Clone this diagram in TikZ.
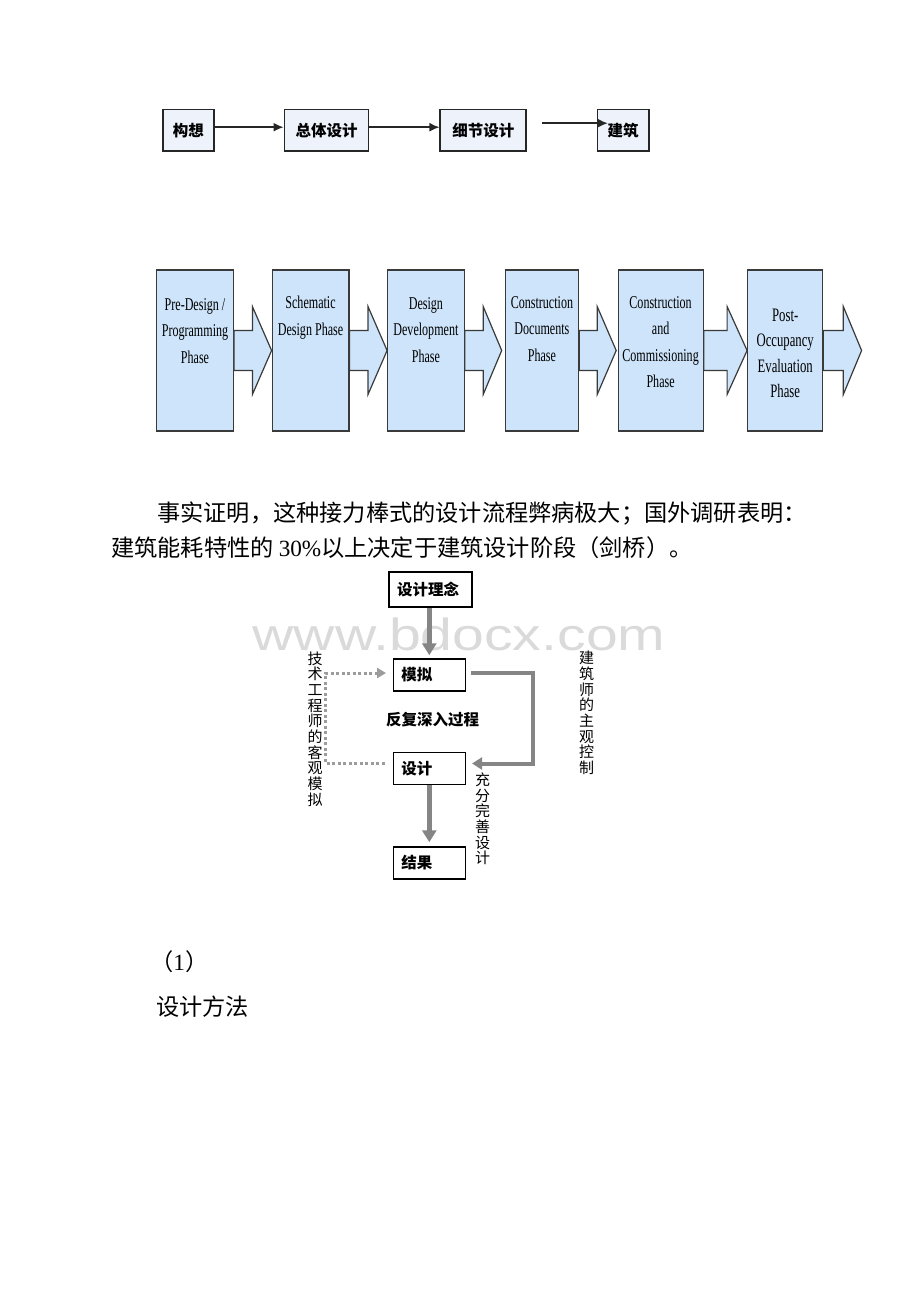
\documentclass[tikz,border=0pt]{standalone}
\usepackage{fontspec}
\setmainfont{Liberation Serif}
\newfontfamily\cjk{Noto Sans CJK SC}
\newfontfamily\phasefont[FakeStretch=0.67]{Liberation Serif}
\newfontfamily\wmfont[FakeStretch=1.27]{Liberation Sans}
\usepackage{tikz}
\usetikzlibrary{positioning}
\usetikzlibrary{arrows.meta}
\definecolor{phasenblau}{HTML}{CDE4FA}
\definecolor{kastenblau}{HTML}{EEF3FB}
\definecolor{rand}{HTML}{3A3A3A}
\definecolor{pfeilgrau}{HTML}{858585}
\definecolor{punktgrau}{HTML}{9C9C9C}
\definecolor{wasserzeichen}{HTML}{DADADA}
\tikzset{
  Kasten/.style={draw=black!85, line width=1.6pt, fill=kastenblau, minimum height=41.7pt,
    inner sep=0pt, font=\cjk\bfseries\fontsize{15.5}{18}\selectfont}, % oben
  Phase/.style={draw=rand, line width=1.2pt, fill=phasenblau, minimum height=161pt, inner sep=0pt},
  PText/.style={align=center, inner sep=0pt, anchor=base, font=\phasefont\fontsize{18}{26.5}\selectfont},
  PPfeil/.style={draw=rand, line width=1.2pt, fill=phasenblau, line join=miter},
  Schritt/.style={draw, line width=1.5pt, fill=white, minimum height=32pt, inner xsep=8pt,
    text width=#1, align=left, font=\cjk\bfseries\fontsize{15.5}{18}\selectfont},
  Schritt/.default=56pt,
  Pfeil/.style={line width=1.6pt, black!85, -{Latex[length=10pt,width=9pt]}}, % für Pfeile oben
  GPfeil/.style={pfeilgrau, line width=5pt, -{Triangle[length=12pt,width=14pt]}}, % grau, dick
  GLinie/.style={pfeilgrau, line width=4pt, -{Triangle[length=10pt,width=12pt]}},
  Punkte/.style={punktgrau, line width=3pt, dash pattern=on 3pt off 2.5pt,
    -{Triangle[length=9pt,width=10pt]}},
  Senkrecht/.style={align=center, inner sep=0pt, font=\cjk\fontsize{15}{15.7}\selectfont},
  Absatz/.style={inner sep=0pt, font=\cjk\fontsize{23.2}{30}\selectfont}
}
\newcommand\Blockpfeil[3]{% Knoten, Schaft, Spitze
  \draw[PPfeil] ([yshift=20pt]#1.east) -- ++(#2,0pt) -- ++(0pt,24pt)
    -- ([xshift=#3]#1.east) -- ([xshift=#2,yshift=-44pt]#1.east) -- ++(0pt,24pt)
    -- ([yshift=-20pt]#1.east) -- cycle;}

\begin{document}
\begin{tikzpicture}[x=1pt, y=-1pt,
>=latex % Voreinstellung für Pfeilspitzen
]
\useasboundingbox (0,0) rectangle (920,1302);

%Wasserzeichen
\node[text=wasserzeichen, inner sep=0pt, font=\wmfont\fontsize{45}{50}\selectfont, anchor=base] (WZ) at (459,650) {www.bdocx.com};

%Kästen oben
\node[Kasten, minimum width=51.3pt] (K1) at (188.4,130.2) {构想};
\node[Kasten, minimum width=84.3pt, right=68.7pt of K1] (K2) {总体设计};
\node[Kasten, minimum width=86pt, right=70pt of K2] (K3) {细节设计};
\node[Kasten, minimum width=51.3pt, right=69.7pt of K3] (K4) {建筑};

\draw[Pfeil] ([yshift=3pt]K1.east) -- ([yshift=3pt]K2.west);
\draw[Pfeil] ([yshift=3pt]K2.east) -- ([yshift=3pt]K3.west);
\draw[Pfeil] ([xshift=15pt,yshift=7pt]K3.east) -- ([xshift=11pt,yshift=7pt]K4.west);

%Phasen
\node[Phase, minimum width=76.6pt] (P1) at (195,350.5) {};
\node[Phase, minimum width=76.7pt, right=37.7pt of P1] (P2) {};
\node[Phase, minimum width=76.4pt, right=37.6pt of P2] (P3) {};
\node[Phase, minimum width=73.3pt, right=40pt of P3] (P4) {};
\node[Phase, minimum width=85pt, right=38.3pt of P4] (P5) {};
\node[Phase, minimum width=75pt, right=43.4pt of P5] (P6) {};

\Blockpfeil{P1}{18.5pt}{37.7pt}
\Blockpfeil{P2}{18.5pt}{37.6pt}
\Blockpfeil{P3}{18.5pt}{37pt}
\Blockpfeil{P4}{18pt}{37pt}
\Blockpfeil{P5}{23.4pt}{43.4pt}
\Blockpfeil{P6}{20pt}{38.3pt}

% base = letzte Zeile
\node[PText] (T1) at ([yshift=-94pt]P1.north) {Pre-Design /\\Programming\\Phase};
\node[PText] (T2) at ([yshift=-66pt]P2.north) {Schematic\\Design Phase};
\node[PText] (T3) at ([yshift=-93pt]P3.north) {Design\\Development\\Phase};
\node[PText] (T4) at ([yshift=-92pt]P4.north) {Construction\\Documents\\Phase};
\node[PText] (T5) at ([yshift=-118.5pt]P5.north) {Construction\\and\\Commissioning\\Phase};
\node[PText, font=\phasefont\fontsize{19}{25.5}\selectfont] (T6) at ([yshift=-128.5pt]P6.north) {Post-\\Occupancy\\Evaluation\\Phase};

%Text
\node[Absatz, anchor=west] (Z1) at (157,514) {事实证明，这种接力棒式的设计流程弊病极大；国外调研表明：};
\node[Absatz, anchor=west] (Z2) at (111,548) {建筑能耗特性的 {\rmfamily 30\%}以上决定于建筑设计阶段（剑桥）。};

%Ablauf
\node[Schritt=67pt, minimum height=35pt] (Idee) at (430.5,589.5) {设计理念};
\node[Schritt] (Sim) at (429.3,675) {模拟};
\node[Schritt, below=60pt of Sim] (Ent) {设计};
\node[Schritt, below=61pt of Ent] (Erg) {结果};

\node[font=\cjk\bfseries\fontsize{15.5}{18}\selectfont] (Loop) at (432.5,719.3) {反复深入过程};
\node[Senkrecht] (LT) at (315,729) {技\\术\\工\\程\\师\\的\\客\\观\\模\\拟};
\node[Senkrecht] (RT) at (586.7,713) {建\\筑\\师\\的\\主\\观\\控\\制};
\node[Senkrecht] (UT) at (482.7,819) {充\\分\\完\\善\\设\\计};

%Pfeile
\draw[GPfeil, shorten >=3pt] (Idee.south -| Sim.north) -- (Sim.north);
\draw[GPfeil, shorten >=4pt] (Ent.south) -- (Erg.north);
\draw[GLinie] ([xshift=5pt,yshift=2pt]Sim.east) -- ++(61.5pt,0pt) |- ([xshift=6pt,yshift=5pt]Ent.east);
\draw[Punkte] ([xshift=-8pt,yshift=5pt]Ent.west) -- ++(-58.6pt,0pt) |- ([xshift=-6.5pt,yshift=2pt]Sim.west);

%unten
\node[Absatz, anchor=west] (N1) at (150,962) {（{\rmfamily 1}）};
\node[Absatz, anchor=west] (U1) at (156,1007) {设计方法};

\end{tikzpicture}
\end{document}
